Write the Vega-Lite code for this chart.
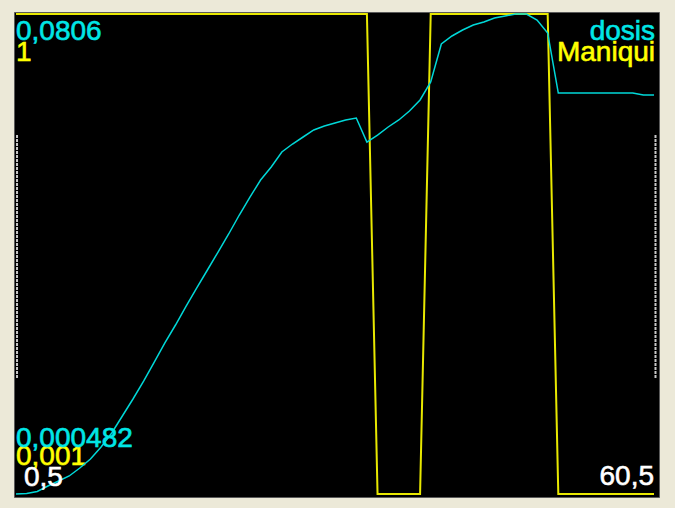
{
  "$schema": "https://vega.github.io/schema/vega-lite/v6.json",
  "width": 645,
  "height": 485,
  "autosize": {"type": "none"},
  "padding": {"left": 14, "top": 12, "right": 16, "bottom": 11},
  "background": "#ece9d8",
  "config": {
    "view": {"fill": "#000000", "stroke": "#5a5a5a", "strokeWidth": 1},
    "text": {"font": "Liberation Sans", "fontSize": 28, "strokeWidth": 0.6}
  },
  "datasets": {
    "d": [
      {"x": 0.5, "dosis": 0.000482, "maniqui": 1},
      {"x": 1.5, "dosis": 0.000565, "maniqui": 1},
      {"x": 2.5, "dosis": 0.0009, "maniqui": 1},
      {"x": 3.5, "dosis": 0.00182, "maniqui": 1},
      {"x": 4.5, "dosis": 0.00265, "maniqui": 1},
      {"x": 5.5, "dosis": 0.00349, "maniqui": 1},
      {"x": 6.5, "dosis": 0.00482, "maniqui": 1},
      {"x": 7.5, "dosis": 0.00632, "maniqui": 1},
      {"x": 8.5, "dosis": 0.00833, "maniqui": 1},
      {"x": 9.5, "dosis": 0.01066, "maniqui": 1},
      {"x": 10.5, "dosis": 0.0135, "maniqui": 1},
      {"x": 11.5, "dosis": 0.01634, "maniqui": 1},
      {"x": 12.5, "dosis": 0.01934, "maniqui": 1},
      {"x": 13.5, "dosis": 0.02251, "maniqui": 1},
      {"x": 14.5, "dosis": 0.02569, "maniqui": 1},
      {"x": 15.5, "dosis": 0.02869, "maniqui": 1},
      {"x": 16.5, "dosis": 0.03186, "maniqui": 1},
      {"x": 17.5, "dosis": 0.03487, "maniqui": 1},
      {"x": 18.5, "dosis": 0.03787, "maniqui": 1},
      {"x": 19.5, "dosis": 0.04087, "maniqui": 1},
      {"x": 20.5, "dosis": 0.04388, "maniqui": 1},
      {"x": 21.5, "dosis": 0.04705, "maniqui": 1},
      {"x": 22.5, "dosis": 0.05005, "maniqui": 1},
      {"x": 23.5, "dosis": 0.05289, "maniqui": 1},
      {"x": 24.5, "dosis": 0.05506, "maniqui": 1},
      {"x": 25.5, "dosis": 0.05757, "maniqui": 1},
      {"x": 26.5, "dosis": 0.0589, "maniqui": 1},
      {"x": 27.5, "dosis": 0.06007, "maniqui": 1},
      {"x": 28.5, "dosis": 0.06124, "maniqui": 1},
      {"x": 29.5, "dosis": 0.0619, "maniqui": 1},
      {"x": 30.5, "dosis": 0.06241, "maniqui": 1},
      {"x": 31.5, "dosis": 0.06291, "maniqui": 1},
      {"x": 32.5, "dosis": 0.06324, "maniqui": 1},
      {"x": 33.5, "dosis": 0.05923, "maniqui": 1},
      {"x": 34.5, "dosis": 0.0604, "maniqui": 0.001},
      {"x": 35.5, "dosis": 0.06174, "maniqui": 0.001},
      {"x": 36.5, "dosis": 0.06291, "maniqui": 0.001},
      {"x": 37.5, "dosis": 0.06441, "maniqui": 0.001},
      {"x": 38.5, "dosis": 0.06625, "maniqui": 0.001},
      {"x": 39.5, "dosis": 0.06925, "maniqui": 1},
      {"x": 40.5, "dosis": 0.07559, "maniqui": 1},
      {"x": 41.5, "dosis": 0.07693, "maniqui": 1},
      {"x": 42.5, "dosis": 0.07793, "maniqui": 1},
      {"x": 43.5, "dosis": 0.07876, "maniqui": 1},
      {"x": 44.5, "dosis": 0.07926, "maniqui": 1},
      {"x": 45.5, "dosis": 0.07993, "maniqui": 1},
      {"x": 46.5, "dosis": 0.08027, "maniqui": 1},
      {"x": 47.5, "dosis": 0.0806, "maniqui": 1},
      {"x": 48.5, "dosis": 0.0806, "maniqui": 1},
      {"x": 49.5, "dosis": 0.0796, "maniqui": 1},
      {"x": 50.5, "dosis": 0.07743, "maniqui": 1},
      {"x": 51.5, "dosis": 0.06741, "maniqui": 0.001},
      {"x": 52.5, "dosis": 0.06741, "maniqui": 0.001},
      {"x": 53.5, "dosis": 0.06741, "maniqui": 0.001},
      {"x": 54.5, "dosis": 0.06741, "maniqui": 0.001},
      {"x": 55.5, "dosis": 0.06741, "maniqui": 0.001},
      {"x": 56.5, "dosis": 0.06741, "maniqui": 0.001},
      {"x": 57.5, "dosis": 0.06741, "maniqui": 0.001},
      {"x": 58.5, "dosis": 0.06741, "maniqui": 0.001},
      {"x": 59.5, "dosis": 0.06708, "maniqui": 0.001},
      {"x": 60.5, "dosis": 0.06708, "maniqui": 0.001}
    ]
  },
  "resolve": {"scale": {"y": "independent"}},
  "layer": [
    {
      "layer": [
        {
          "data": {"name": "d"},
          "mark": {"type": "line", "color": "#e8e800", "strokeWidth": 2},
          "encoding": {
            "x": {"field": "x", "type": "quantitative", "scale": {"domain": [0.31, 60.97], "nice": false, "zero": false}, "axis": null},
            "y": {"field": "maniqui", "type": "quantitative", "scale": {"domain": [-0.00524, 1.00416], "nice": false, "zero": false}, "axis": null}
          }
        },
        {
          "data": {"values": [{}]},
          "mark": {"type": "text", "text": "1", "color": "#ffff00", "stroke": "#ffff00", "align": "left", "baseline": "alphabetic", "dy": 47},
          "encoding": {"x": {"datum": 0.5, "type": "quantitative"}, "y": {"datum": 1, "type": "quantitative"}}
        },
        {
          "data": {"values": [{}]},
          "mark": {"type": "text", "text": "0,001", "color": "#ffff00", "stroke": "#ffff00", "align": "left", "baseline": "alphabetic", "dy": -29},
          "encoding": {"x": {"datum": 0.5, "type": "quantitative"}, "y": {"datum": 0.001, "type": "quantitative"}}
        },
        {
          "data": {"values": [{}]},
          "mark": {"type": "text", "text": "Maniqui", "color": "#ffff00", "stroke": "#ffff00", "align": "right", "baseline": "alphabetic", "dy": 47, "dx": 1},
          "encoding": {"x": {"datum": 60.5, "type": "quantitative"}, "y": {"datum": 1, "type": "quantitative"}}
        }
      ]
    },
    {
      "layer": [
        {
          "data": {"name": "d"},
          "mark": {"type": "line", "color": "#00d8d8", "strokeWidth": 1.5},
          "encoding": {
            "x": {"field": "x", "type": "quantitative"},
            "y": {"field": "dosis", "type": "quantitative", "scale": {"domain": [-0.0000187, 0.080934], "nice": false, "zero": false}, "axis": null}
          }
        },
        {
          "data": {"values": [{}]},
          "mark": {"type": "text", "text": "0,0806", "color": "#00e6e6", "stroke": "#00e6e6", "align": "left", "baseline": "alphabetic", "dy": 26},
          "encoding": {"x": {"datum": 0.5, "type": "quantitative"}, "y": {"datum": 0.0806, "type": "quantitative"}}
        },
        {
          "data": {"values": [{}]},
          "mark": {"type": "text", "text": "0,000482", "color": "#00e6e6", "stroke": "#00e6e6", "align": "left", "baseline": "alphabetic", "dy": -47},
          "encoding": {"x": {"datum": 0.5, "type": "quantitative"}, "y": {"datum": 0.000482, "type": "quantitative"}}
        },
        {
          "data": {"values": [{}]},
          "mark": {"type": "text", "text": "dosis", "color": "#00e6e6", "stroke": "#00e6e6", "align": "right", "baseline": "alphabetic", "dy": 26, "dx": 1},
          "encoding": {"x": {"datum": 60.5, "type": "quantitative"}, "y": {"datum": 0.0806, "type": "quantitative"}}
        },
        {
          "data": {"values": [{}]},
          "mark": {"type": "text", "text": "0,5", "color": "#ffffff", "stroke": "#ffffff", "align": "left", "baseline": "alphabetic", "dy": -8, "dx": 8},
          "encoding": {"x": {"datum": 0.5, "type": "quantitative"}, "y": {"datum": 0.000482, "type": "quantitative"}}
        },
        {
          "data": {"values": [{}]},
          "mark": {"type": "text", "text": "60,5", "color": "#ffffff", "stroke": "#ffffff", "align": "right", "baseline": "alphabetic", "dy": -9, "dx": 0},
          "encoding": {"x": {"datum": 60.5, "type": "quantitative"}, "y": {"datum": 0.000482, "type": "quantitative"}}
        },
        {
          "data": {"values": [{"edge": 0.594}, {"edge": 60.64}]},
          "mark": {"type": "rule", "color": "#c8c8c8", "strokeWidth": 2, "strokeDash": [3, 1]},
          "encoding": {
            "x": {"field": "edge", "type": "quantitative"},
            "y": {"datum": 0.0604, "type": "quantitative"},
            "y2": {"datum": 0.01984}
          }
        }
      ]
    }
  ]
}
